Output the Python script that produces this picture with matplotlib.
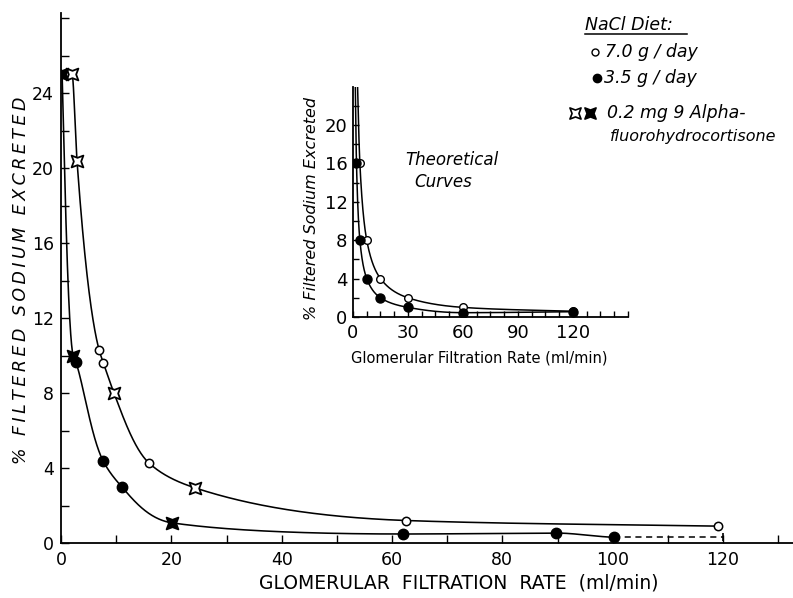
import numpy as np
import matplotlib
matplotlib.use("Agg")
import matplotlib.pyplot as plt
from matplotlib.path import Path
from matplotlib.lines import Line2D
from matplotlib.ticker import MultipleLocator, FixedLocator

# ---------------- data (main chart) ----------------
open_circle_x = [1.0, 6.9, 7.7, 16.0, 62.5, 119.0]
open_circle_y = [25.0, 10.3, 9.6, 4.25, 1.2, 0.9]
filled_circle_x = [2.7, 7.6, 11.0, 62.0, 89.8, 100.2]
filled_circle_y = [9.65, 4.4, 3.0, 0.48, 0.53, 0.3]
open_star_x = [2.0, 2.9, 9.6, 24.2]
open_star_y = [25.0, 20.4, 8.0, 2.95]
filled_star_x = [0.2, 2.2, 20.2]
filled_star_y = [25.0, 10.0, 1.07]
dash_x = [100.2, 120.0]
dash_y = [0.3, 0.3]

# ---------------- data (inset: theoretical curves) ----------------
theo_open_x = [3.75, 7.5, 15.0, 30.0, 60.0, 120.0]
theo_open_y = [16.0, 8.0, 4.0, 2.0, 1.0, 0.6]
theo_filled_x = [1.9, 3.75, 7.5, 15.0, 30.0, 60.0, 120.0]
theo_filled_y = [16.0, 8.0, 4.0, 2.0, 1.0, 0.45, 0.55]

main_xticks = [0, 20, 40, 60, 80, 100, 120]
main_yticks = [0, 4, 8, 12, 16, 20, 24]
inset_xticks = [0, 30, 60, 90, 120]
inset_yticks = [0, 4, 8, 12, 16, 20]

W, H = 793, 598
plt.rcParams['font.family'] = ['DejaVu Sans']


def fx(px):
    return px / W


def fy(py):
    return 1 - py / H


def smooth_curve(xs, ys, n=120):
    """Monotone (PCHIP) curve through the points, in (x, log y) space, for drawing."""
    x = np.asarray(xs, float)
    y = np.log(np.asarray(ys, float))
    h = np.diff(x)
    d = np.diff(y) / h
    m = np.zeros_like(x)
    for k in range(1, len(x) - 1):
        if d[k - 1] * d[k] <= 0:
            m[k] = 0.0
        else:
            w1 = 2 * h[k] + h[k - 1]
            w2 = h[k] + 2 * h[k - 1]
            m[k] = (w1 + w2) / (w1 / d[k - 1] + w2 / d[k])
    m[0] = d[0]
    m[-1] = d[-1]
    xx, yy = [], []
    for k in range(len(x) - 1):
        t = np.linspace(0, 1, n)
        h00 = 2 * t**3 - 3 * t**2 + 1
        h10 = t**3 - 2 * t**2 + t
        h01 = -2 * t**3 + 3 * t**2
        h11 = t**3 - t**2
        seg = h00 * y[k] + h10 * h[k] * m[k] + h01 * y[k + 1] + h11 * h[k] * m[k + 1]
        xx.append(x[k] + t * h[k])
        yy.append(seg)
    return np.concatenate(xx), np.exp(np.concatenate(yy))


def merged(xa, ya, xb, yb):
    x = np.array(list(xa) + list(xb))
    y = np.array(list(ya) + list(yb))
    o = np.argsort(x)
    return x[o], y[o]


# custom "currency sign" like marker (square with concave sides)
q = 0.62
star_verts = [(1, 1), (0, q), (-1, 1), (-q, 0), (-1, -1), (0, -q),
              (1, -1), (q, 0), (1, 1)]
star_codes = [Path.MOVETO] + [Path.LINETO] * 7 + [Path.CLOSEPOLY]
star_marker = Path(star_verts, star_codes)

fig = plt.figure(figsize=(W / 100, H / 100), dpi=100)

# ---------------- main axes ----------------
ax_left, ax_right, ax_bottom, ax_top = 61, 793, 543, 13
ax = fig.add_axes([fx(ax_left), fy(ax_bottom), fx(ax_right) - fx(ax_left),
                   fy(ax_top) - fy(ax_bottom)])
ax.set_xlim(0, (ax_right - ax_left) / 5.517)
ax.set_ylim(0, (ax_bottom - ax_top) / 18.75)

ux, uy = merged(open_circle_x, open_circle_y, open_star_x, open_star_y)
lx, ly = merged(filled_circle_x, filled_circle_y, filled_star_x, filled_star_y)
cx, cy = smooth_curve(ux, uy)
ax.plot(cx, cy, color='black', lw=1.15, zorder=2)
cx, cy = smooth_curve(lx, ly)
ax.plot(cx, cy, color='black', lw=1.15, zorder=2)
ax.plot(dash_x, dash_y, color='black', lw=1.1, ls=(0, (4, 3)), zorder=2)
ax.plot([dash_x[-1]], [dash_y[-1]], marker='|', color='black', ms=6, mew=1.2)

ax.plot(open_circle_x, open_circle_y, 'o', ms=6, mfc='white', mec='black',
        mew=1.1, ls='none', zorder=3)
ax.plot(filled_circle_x, filled_circle_y, 'o', ms=7.5, mfc='black', mec='black',
        ls='none', zorder=3)
ax.plot(open_star_x, open_star_y, marker=star_marker, ms=8.5, mfc='white',
        mec='black', mew=1.3, ls='none', zorder=4)
ax.plot(filled_star_x, filled_star_y, marker=star_marker, ms=8.5, mfc='black',
        mec='black', mew=1.3, ls='none', zorder=4)

for s in ['top', 'right']:
    ax.spines[s].set_visible(False)
for s in ['left', 'bottom']:
    ax.spines[s].set_linewidth(1.3)
ax.xaxis.set_major_locator(FixedLocator(main_xticks))
ax.xaxis.set_minor_locator(MultipleLocator(10))
ax.yaxis.set_major_locator(FixedLocator(main_yticks))
ax.yaxis.set_minor_locator(MultipleLocator(2))
ax.tick_params(which='both', direction='in', width=1.0)
ax.tick_params(which='major', length=6, labelsize=12.5)
ax.tick_params(which='minor', length=6)
ax.tick_params(axis='x', pad=6)
ax.tick_params(axis='y', pad=5)
ax.patch.set_alpha(0)

fig.text(fx(459), fy(583), 'GLOMERULAR  FILTRATION  RATE  (ml/min)',
         ha='center', va='center', fontsize=13.5)
ylab = '% FILTERED SODIUM EXCRETED'
ylab_spaced = '\u2009'.join(ylab)
fig.text(fx(21), fy(280), ylab_spaced, ha='center', va='center', rotation=90,
         fontsize=12.5, style='italic')

# ---------------- inset ----------------
i_left, i_right, i_bottom, i_top = 353, 628, 317, 87
ikx, iky = 1.833, 9.6
ax2 = fig.add_axes([fx(i_left), fy(i_bottom), fx(i_right) - fx(i_left),
                    fy(i_top) - fy(i_bottom)])
ax2.set_xlim(0, (i_right - i_left) / ikx)
ax2.set_ylim(0, (i_bottom - i_top) / iky)
ytop = (i_bottom - i_top) / iky

for xs, ys in [(theo_open_x, theo_open_y), (theo_filled_x, theo_filled_y)]:
    # extend the theoretical hyperbola up to the top of the axis
    x_ext = xs[0] * ys[0] / ytop
    cx, cy = smooth_curve([x_ext] + list(xs), [ytop] + list(ys))
    ax2.plot(cx, cy, color='black', lw=1.1, zorder=2)

ax2.plot(theo_open_x, theo_open_y, 'o', ms=5.5, mfc='white', mec='black',
         mew=1.0, ls='none', zorder=3)
ax2.plot(theo_filled_x, theo_filled_y, 'o', ms=6.5, mfc='black', mec='black',
         ls='none', zorder=4)

for s in ['top', 'right']:
    ax2.spines[s].set_visible(False)
for s in ['left', 'bottom']:
    ax2.spines[s].set_linewidth(1.3)
ax2.xaxis.set_major_locator(FixedLocator(inset_xticks))
ax2.xaxis.set_minor_locator(MultipleLocator(7.5))
ax2.yaxis.set_major_locator(FixedLocator(inset_yticks))
ax2.yaxis.set_minor_locator(MultipleLocator(2))
ax2.tick_params(which='both', direction='in', width=1.0, length=4)
ax2.tick_params(which='major', labelsize=13)
ax2.tick_params(axis='x', pad=5)
ax2.tick_params(axis='y', pad=4)
ax2.patch.set_alpha(0)

fig.text(fx(479), fy(358), 'Glomerular Filtration Rate (ml/min)', ha='center',
         va='center', fontsize=10.5)
fig.text(fx(312), fy(208), '% Filtered Sodium Excreted', ha='center',
         va='center', rotation=90, fontsize=11.5, style='italic')
fig.text(fx(452), fy(160), 'Theoretical', ha='center', va='center',
         fontsize=12, style='italic')
fig.text(fx(443), fy(182), 'Curves', ha='center', va='center',
         fontsize=12, style='italic')

# ---------------- legend (hand placed) ----------------
fig.text(fx(585), fy(25), 'NaCl Diet:', ha='left', va='center', fontsize=12.5,
         style='italic')
fig.add_artist(Line2D([fx(585), fx(687)], [fy(34), fy(34)], color='black', lw=1.1))
fig.add_artist(Line2D([fx(595)], [fy(52)], marker='o', ms=5, mfc='white',
                      mec='black', mew=1.0, ls='none'))
fig.text(fx(605), fy(52), '7.0 g / day', ha='left', va='center', fontsize=12.5,
         style='italic')
fig.add_artist(Line2D([fx(597)], [fy(78)], marker='o', ms=6, mfc='black',
                      mec='black', ls='none'))
fig.text(fx(604), fy(78), '3.5 g / day', ha='left', va='center', fontsize=12.5,
         style='italic')
fig.add_artist(Line2D([fx(575)], [fy(113)], marker=star_marker, ms=8, mfc='white',
                      mec='black', mew=1.2, ls='none'))
fig.add_artist(Line2D([fx(590)], [fy(113)], marker=star_marker, ms=8, mfc='black',
                      mec='black', mew=1.2, ls='none'))
fig.text(fx(607), fy(113), '0.2 mg 9 Alpha-', ha='left', va='center',
         fontsize=12.5, style='italic')
fig.text(fx(610), fy(137), 'fluorohydrocortisone', ha='left', va='center',
         fontsize=11.5, style='italic')

fig.savefig('out.png', dpi=100)
